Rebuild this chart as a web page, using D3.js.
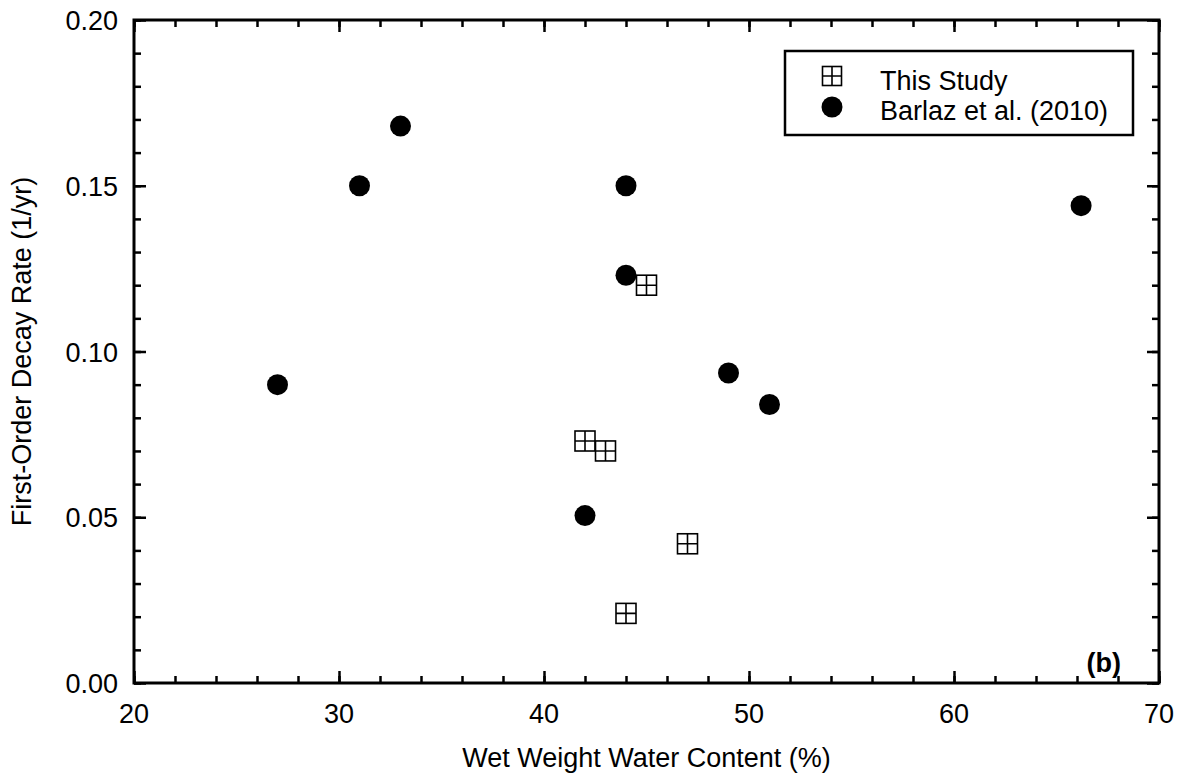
<!DOCTYPE html>
<html>
<head>
<meta charset="utf-8">
<script src="https://cdn.jsdelivr.net/npm/d3@7"></script>
<style>
  body { margin: 0; background: #fff; }
  svg { font-family: "Liberation Sans", Arial, sans-serif; }
</style>
</head>
<body>
<svg id="svg_decay" width="1185" height="776"></svg>
<script>
// First-order decay rate vs. wet weight water content

// This Study (open squares with cross)
const studyX = [45, 42, 43, 47, 44];
const studyY = [0.120, 0.073, 0.070, 0.042, 0.021];

// Barlaz et al. (2010) (filled circles)
const barlazX = [27, 31, 33, 44, 44, 42, 49, 51, 66.2];
const barlazY = [0.090, 0.150, 0.168, 0.150, 0.123, 0.0505, 0.0935, 0.084, 0.144];

const xTicks = [20, 30, 40, 50, 60, 70];
const yTicks = [0, 0.05, 0.10, 0.15, 0.20];
const legendLabels = ['This Study', 'Barlaz et al. (2010)'];

const svg = d3.select('#svg_decay');
const plotL = 134, plotR = 1159, plotT = 20, plotB = 683;
const fs = 27;

const xScale = d3.scaleLinear().domain([20, 70]).range([plotL, plotR]);
const yScale = d3.scaleLinear().domain([0, 0.20]).range([plotB, plotT]);

const xMinor = d3.range(20, 70.01, 2);
const yMinor = d3.range(0, 0.2001, 0.01);

// Ticks (inward on all four sides)
function drawTicks(g, axis) {
    g.call(axis);
    g.select('.domain').remove();
    g.selectAll('.tick line').attr('stroke', '#000').attr('stroke-width', 2.5);
    g.selectAll('text').remove();
}

// minor
svg.append('g').attr('transform', `translate(0, ${plotB})`)
   .call(g => drawTicks(g, d3.axisBottom(xScale).tickValues(xMinor).tickSize(-7)));
svg.append('g').attr('transform', `translate(0, ${plotT})`)
   .call(g => drawTicks(g, d3.axisTop(xScale).tickValues(xMinor).tickSize(-7)));
svg.append('g').attr('transform', `translate(${plotL}, 0)`)
   .call(g => drawTicks(g, d3.axisLeft(yScale).tickValues(yMinor).tickSize(-7)));
svg.append('g').attr('transform', `translate(${plotR}, 0)`)
   .call(g => drawTicks(g, d3.axisRight(yScale).tickValues(yMinor).tickSize(-7)));

// major
svg.append('g').attr('transform', `translate(0, ${plotB})`)
   .call(g => drawTicks(g, d3.axisBottom(xScale).tickValues(xTicks).tickSize(-12)));
svg.append('g').attr('transform', `translate(0, ${plotT})`)
   .call(g => drawTicks(g, d3.axisTop(xScale).tickValues(xTicks).tickSize(-12)));
svg.append('g').attr('transform', `translate(${plotL}, 0)`)
   .call(g => drawTicks(g, d3.axisLeft(yScale).tickValues(yTicks).tickSize(-12)));
svg.append('g').attr('transform', `translate(${plotR}, 0)`)
   .call(g => drawTicks(g, d3.axisRight(yScale).tickValues(yTicks).tickSize(-12)));

// Frame
svg.append('rect')
   .attr('x', plotL).attr('y', plotT)
   .attr('width', plotR - plotL).attr('height', plotB - plotT)
   .attr('fill', 'none').attr('stroke', '#000').attr('stroke-width', 3);

// Tick labels
svg.append('g').selectAll('text').data(xTicks).join('text')
   .attr('x', d => xScale(d)).attr('y', 723)
   .attr('text-anchor', 'middle').attr('font-size', fs)
   .text(d => d);

svg.append('g').selectAll('text').data(yTicks).join('text')
   .attr('x', 118).attr('y', d => yScale(d) + 10)
   .attr('text-anchor', 'end').attr('font-size', fs)
   .text(d => d.toFixed(2));

// Axis titles
svg.append('text')
   .attr('x', (plotL + plotR) / 2).attr('y', 767)
   .attr('text-anchor', 'middle').attr('font-size', fs)
   .text('Wet Weight Water Content (%)');

svg.append('text')
   .attr('transform', `translate(31, ${(plotT + plotB) / 2}) rotate(-90)`)
   .attr('text-anchor', 'middle').attr('font-size', fs)
   .text('First-Order Decay Rate (1/yr)');

// Markers
function crossSquare(g, cx, cy, s) {
    const h = s / 2;
    g.append('rect').attr('x', cx - h).attr('y', cy - h)
     .attr('width', s).attr('height', s)
     .attr('fill', '#fff').attr('stroke', '#000').attr('stroke-width', 1.6);
    g.append('path')
     .attr('d', `M${cx - h},${cy}H${cx + h}M${cx},${cy - h}V${cy + h}`)
     .attr('stroke', '#000').attr('stroke-width', 1.6);
}

const barlaz = barlazX.map((x, i) => ({ x: x, y: barlazY[i] }));
const study = studyX.map((x, i) => ({ x: x, y: studyY[i] }));

svg.append('g').selectAll('circle').data(barlaz).join('circle')
   .attr('cx', d => xScale(d.x)).attr('cy', d => yScale(d.y))
   .attr('r', 10.5).attr('fill', '#000');

const sq = svg.append('g');
study.forEach(d => crossSquare(sq, xScale(d.x), yScale(d.y), 20));

// Legend
const leg = svg.append('g');
leg.append('rect')
   .attr('x', 785).attr('y', 51).attr('width', 348).attr('height', 84)
   .attr('fill', '#fff').attr('stroke', '#000').attr('stroke-width', 2.5);
crossSquare(leg, 832, 76, 19);
leg.append('circle').attr('cx', 832).attr('cy', 107).attr('r', 10.5).attr('fill', '#000');
leg.selectAll('text.lab').data(legendLabels).join('text')
   .attr('class', 'lab')
   .attr('x', 880).attr('y', (d, i) => 90 + i * 30)
   .attr('font-size', fs)
   .text(d => d);

// Panel label
svg.append('text')
   .attr('x', 1121).attr('y', 672)
   .attr('text-anchor', 'end').attr('font-size', fs).attr('font-weight', 'bold')
   .text('(b)');
</script>
</body>
</html>
